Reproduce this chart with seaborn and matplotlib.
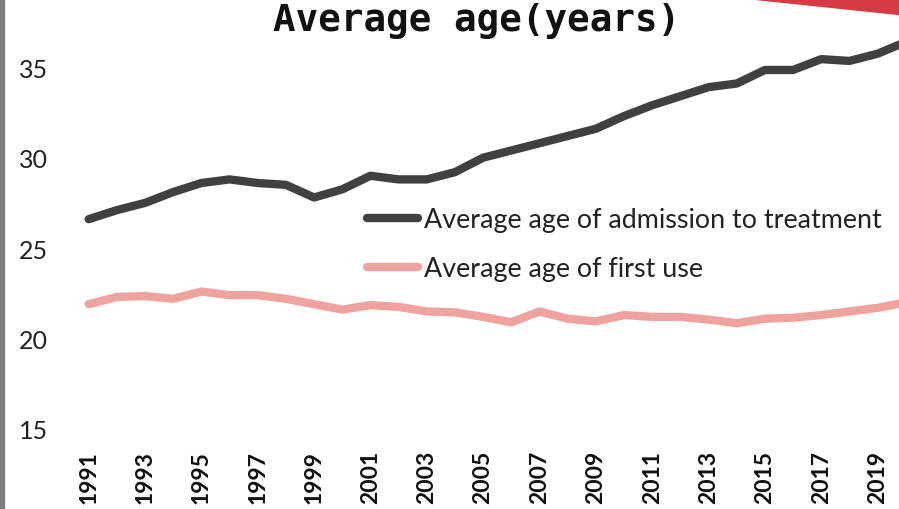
import matplotlib
matplotlib.use("Agg")
import matplotlib.pyplot as plt
import seaborn as sns
import pandas as pd
from matplotlib.patches import Rectangle, Polygon
from matplotlib.lines import Line2D

years = list(range(1991, 2021))
admission_age = [26.6, 27.1, 27.5, 28.1, 28.6, 28.8, 28.6, 28.5, 27.8, 28.25,
                 29.0, 28.8, 28.8, 29.2, 30.0, 30.4, 30.8, 31.2, 31.6, 32.3,
                 32.9, 33.4, 33.9, 34.1, 34.85, 34.85, 35.45, 35.35, 35.75, 36.4]
first_use_age = [21.9, 22.3, 22.35, 22.2, 22.6, 22.4, 22.4, 22.2, 21.9, 21.6,
                 21.85, 21.75, 21.5, 21.45, 21.2, 20.9, 21.5, 21.1, 20.95, 21.3,
                 21.2, 21.2, 21.05, 20.85, 21.1, 21.15, 21.3, 21.5, 21.7, 22.0]
series_names = ["Average age of admission to treatment", "Average age of first use"]
title_text = "Average age(years)"
y_ticks = [15, 20, 25, 30, 35]
x_ticks = list(range(1991, 2020, 2))

df = pd.DataFrame({
    "year": years * 2,
    "age": admission_age + first_use_age,
    "series": [series_names[0]] * len(years) + [series_names[1]] * len(years),
})

sns.set_style("white")
plt.rcParams["font.family"] = ["Lato", "DejaVu Sans"]

fig = plt.figure(figsize=(8.99, 5.10), dpi=100)
ax = fig.add_axes([74 / 899, 80 / 510, (899 - 74) / 899, (430 - 14) / 510])

palette = {series_names[0]: "#404040", series_names[1]: "#EFA3A0"}
sns.lineplot(data=df, x="year", y="age", hue="series", palette=palette,
             linewidth=6, ax=ax, legend=False)
for ln in ax.get_lines():
    ln.set_solid_capstyle("round")
    ln.set_solid_joinstyle("round")

ax.set_xlim(1990.48, 2019.76)
ax.set_ylim(15, 38)
ax.set_yticks(y_ticks)
ax.set_yticklabels([str(v) for v in y_ticks], fontsize=18, color="#222222")
ax.set_xticks(x_ticks)
ax.set_xticklabels([str(v) for v in x_ticks], rotation=90, fontsize=16.5,
                   fontweight="bold", color="#111111")
ax.tick_params(axis="y", length=0, pad=19)
ax.tick_params(axis="x", length=0, pad=15)
ax.set_xlabel("")
ax.set_ylabel("")
for s in ax.spines.values():
    s.set_visible(False)

handles = [Line2D([], [], color=palette[n], lw=6, solid_capstyle="round") for n in series_names]
leg = ax.legend(handles, series_names, loc="upper left", bbox_to_anchor=(0.326, 0.592),
                frameon=False, fontsize=19.4, handlelength=1.9, handletextpad=0.2,
                labelspacing=0.9)
for t in leg.get_texts():
    t.set_color("#222222")

fig.text(477 / 899, 1 - 21 / 510, title_text, ha="center", va="center",
         fontsize=27, fontweight="bold", family="DejaVu Sans Mono", color="#111111")

fig.patches.append(Rectangle((0, 0), 4 / 899, 1, transform=fig.transFigure,
                             color="#808080", zorder=5))
fig.patches.append(Polygon([(756 / 899, 1), (1, 1), (1, 1 - 15 / 510)], closed=True,
                           transform=fig.transFigure, color="#D63A45", zorder=5))

fig.savefig("out.png", dpi=100)
